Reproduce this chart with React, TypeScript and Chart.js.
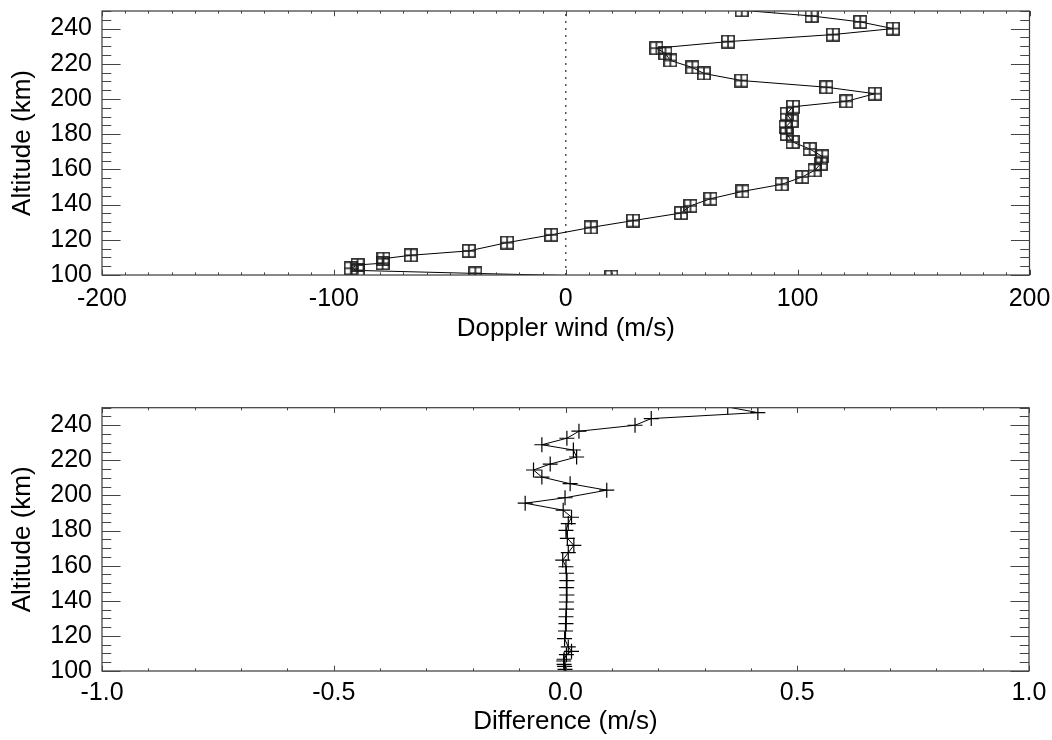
import React, { useEffect, useRef } from 'react';
import { Chart, registerables } from 'chart.js';

Chart.register(...registerables);

// ---- data (altitude order, top to bottom) ----
const altitudes = [
  250.4, 247.2, 243.8, 240.0, 236.6, 232.6, 228.9, 225.9, 221.9, 217.9,
  214.5, 210.5, 206.7, 203.0, 198.7, 195.6, 191.6, 187.6, 184.0, 180.1,
  175.6, 171.6, 167.4, 163.2, 159.4, 155.7, 151.5, 147.5, 143.3, 139.3,
  135.2, 130.9, 127.0, 122.8, 118.4, 113.7, 111.2, 109.3, 106.7, 105.7,
  103.8, 102.6, 100.9, 99.1, 96.0,
];
const dopplerWind = [
  75.9, 106.0, 127.0, 141.1, 115.2, 70.0, 39.1, 43.0, 45.1, 54.6,
  59.6, 75.7, 112.4, 133.3, 121.0, 98.0, 95.3, 97.4, 94.8, 95.3,
  97.8, 105.2, 110.6, 110.0, 107.3, 102.0, 93.1, 76.2, 62.4, 53.8,
  49.7, 29.0, 10.8, -6.3, -25.3, -41.8, -66.8, -78.6, -79.0, -89.8,
  -92.7, -89.7, -39.0, 19.7, 41.0,
];
const difference = [
  0.35, 0.415, 0.185, 0.15, 0.029, 0.003, -0.051, 0.017, 0.024, -0.033,
  -0.069, -0.051, 0.01, 0.089, -0.001, -0.087, -0.005, 0.013, 0.006, 0.001,
  0.004, 0.018, 0.006, -0.006, 0.001, 0.002, 0.003, 0.002, 0.003, 0.002,
  0.002, 0.001, 0.001, 0.0, -0.002, 0.006, 0.013, 0.002, -0.003, -0.004,
  -0.003, -0.002, -0.001, 0.0, 0.0,
];

// ---- axes ----
const altRange = [100, 250];
const altTicks = [100, 120, 140, 160, 180, 200, 220, 240];
const altMinorStep = 5;
const windRange = [-200, 200];
const windTicks = [-200, -100, 0, 100, 200];
const windMinorStep = 10;
const diffRange = [-1, 1];
const diffTicks = [-1, -0.5, 0, 0.5, 1];
const diffMinorStep = 0.1;

const FONT = '"Liberation Sans", Arial, Helvetica, sans-serif';
const TICK_FONT = { family: FONT, size: 25 };
const TITLE_FONT = { family: FONT, size: 26 };

function makeSquarePlus(size: number) {
  const c = document.createElement('canvas');
  c.width = size;
  c.height = size;
  const g = c.getContext('2d')!;
  g.strokeStyle = '#1e1e1e';
  g.lineWidth = 1.6;
  const m = 0.9;
  g.strokeRect(m, m, size - 2 * m, size - 2 * m);
  g.beginPath();
  g.moveTo(size / 2, m);
  g.lineTo(size / 2, size - m);
  g.moveTo(m, size / 2);
  g.lineTo(size - m, size / 2);
  g.stroke();
  return c;
}

const idlAxes = {
  id: 'idlAxes',
  afterDatasetsDraw(chart: any, _args: any, o: any) {
    const { ctx, chartArea: a } = chart;
    const xs = chart.scales.x;
    const ys = chart.scales.y;
    const w = a.right - a.left;
    const h = a.bottom - a.top;
    ctx.save();
    ctx.strokeStyle = '#3a3a3a';
    ctx.lineWidth = 1.2;
    ctx.strokeRect(a.left, a.top, w, h);
    ctx.strokeStyle = '#444';
    ctx.lineWidth = 1;
    ctx.beginPath();
    const xMaj = 0.02 * h;
    const nx = Math.round((xs.max - xs.min) / o.xStep);
    for (let i = 0; i <= nx; i++) {
      const v = xs.min + i * o.xStep;
      const major = o.xMajor.some((t: number) => Math.abs(t - v) < 1e-6);
      const len = major ? xMaj : xMaj / 2;
      const px = Math.round(xs.getPixelForValue(v)) + 0.5;
      ctx.moveTo(px, a.bottom);
      ctx.lineTo(px, a.bottom - len);
      ctx.moveTo(px, a.top);
      ctx.lineTo(px, a.top + len);
    }
    const yMaj = 0.02 * w;
    const ny = Math.round((ys.max - ys.min) / o.yStep);
    for (let i = 0; i <= ny; i++) {
      const v = ys.min + i * o.yStep;
      const major = o.yMajor.some((t: number) => Math.abs(t - v) < 1e-6);
      const len = major ? yMaj : yMaj / 2;
      const py = Math.round(ys.getPixelForValue(v)) + 0.5;
      ctx.moveTo(a.left, py);
      ctx.lineTo(a.left + len, py);
      ctx.moveTo(a.right, py);
      ctx.lineTo(a.right - len, py);
    }
    ctx.stroke();
    ctx.restore();
  },
};

function baseScales(opts: {
  xRange: number[]; xTicks: number[]; xTitle: string; xFmt: (v: number) => string;
  xHeight: number; xTitlePad: number; xTickPad: number;
}) {
  return {
    x: {
      type: 'linear',
      position: 'bottom',
      min: opts.xRange[0],
      max: opts.xRange[1],
      grid: { display: false, drawTicks: false },
      border: { display: false },
      ticks: {
        padding: opts.xTickPad,
        autoSkip: false,
        maxRotation: 0,
        color: '#000',
        font: TICK_FONT,
        callback: (v: any) => opts.xFmt(Number(v)),
      },
      title: {
        display: true,
        text: opts.xTitle,
        color: '#000',
        font: TITLE_FONT,
        padding: { top: 0, bottom: opts.xTitlePad },
      },
      afterBuildTicks: (s: any) => {
        s.ticks = opts.xTicks.map((v) => ({ value: v }));
      },
      afterFit: (s: any) => {
        s.height = opts.xHeight;
        s.paddingLeft = 0;
        s.paddingRight = 0;
      },
    },
    y: {
      type: 'linear',
      position: 'left',
      min: altRange[0],
      max: altRange[1],
      grid: { display: false, drawTicks: false },
      border: { display: false },
      ticks: {
        padding: 10,
        autoSkip: false,
        color: '#000',
        font: TICK_FONT,
        callback: (v: any) => String(v),
      },
      title: {
        display: true,
        text: 'Altitude (km)',
        color: '#000',
        font: TITLE_FONT,
        padding: { top: 7, bottom: 0 },
      },
      afterBuildTicks: (s: any) => {
        s.ticks = altTicks.map((v) => ({ value: v }));
      },
      afterFit: (s: any) => {
        s.width = 102;
        s.paddingTop = 0;
        s.paddingBottom = 0;
      },
    },
  };
}

export default function App() {
  const topRef = useRef<HTMLCanvasElement>(null);
  const botRef = useRef<HTMLCanvasElement>(null);

  useEffect(() => {
    const square = makeSquarePlus(14);
    const windPoints = altitudes.map((y, i) => ({ x: dopplerWind[i], y }));
    const diffPoints = altitudes.map((y, i) => ({ x: difference[i], y }));
    const zeroLine = altRange.map((y) => ({ x: 0, y }));

    const top = new Chart(topRef.current!, {
      type: 'scatter',
      data: {
        datasets: [
          {
            data: zeroLine,
            showLine: true,
            borderColor: '#555',
            borderWidth: 1.5,
            borderDash: [2, 5],
            pointRadius: 0,
            order: 2,
          },
          {
            data: windPoints,
            showLine: true,
            borderColor: '#000',
            borderWidth: 1,
            pointStyle: square as any,
            pointRadius: 7,
            order: 1,
          },
        ],
      },
      options: {
        animation: false,
        responsive: false,
        events: [],
        layout: { padding: { top: 11, right: 22.5, left: 0, bottom: 0 } },
        plugins: {
          legend: { display: false },
          tooltip: { enabled: false },
          idlAxes: { xStep: windMinorStep, xMajor: windTicks, yStep: altMinorStep, yMajor: altTicks },
        } as any,
        scales: baseScales({
          xRange: windRange,
          xTicks: windTicks,
          xTitle: 'Doppler wind (m/s)',
          xFmt: (v) => String(v),
          xHeight: 95,
          xTitlePad: 26,
          xTickPad: 9,
        }) as any,
      },
      plugins: [idlAxes],
    });

    const bot = new Chart(botRef.current!, {
      type: 'scatter',
      data: {
        datasets: [
          {
            data: diffPoints,
            showLine: true,
            borderColor: '#000',
            borderWidth: 1,
            pointStyle: 'cross',
            pointRadius: 7.5,
            pointBorderColor: '#000',
            pointBorderWidth: 1.2,
          },
        ],
      },
      options: {
        animation: false,
        responsive: false,
        events: [],
        layout: { padding: { top: 37.7, right: 23, left: 0, bottom: 0 } },
        plugins: {
          legend: { display: false },
          tooltip: { enabled: false },
          idlAxes: { xStep: diffMinorStep, xMajor: diffTicks, yStep: altMinorStep, yMajor: altTicks },
        } as any,
        scales: baseScales({
          xRange: diffRange,
          xTicks: diffTicks,
          xTitle: 'Difference (m/s)',
          xFmt: (v) => v.toFixed(1),
          xHeight: 69,
          xTitlePad: 3,
          xTickPad: 7,
        }) as any,
      },
      plugins: [idlAxes],
    });

    return () => {
      top.destroy();
      bot.destroy();
    };
  }, []);

  return (
    <div style={{ position: 'absolute', left: 0, top: 0, width: 1052, height: 740, background: '#fff' }}>
      <canvas ref={topRef} width={1052} height={370} style={{ position: 'absolute', left: 0, top: 0, display: 'block' }} />
      <canvas ref={botRef} width={1052} height={370} style={{ position: 'absolute', left: 0, top: 370, display: 'block' }} />
    </div>
  );
}
